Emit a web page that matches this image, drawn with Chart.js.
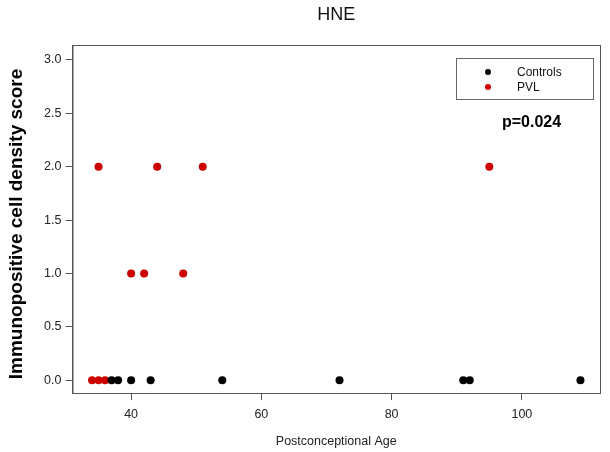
<!DOCTYPE html>
<html>
<head>
<meta charset="utf-8">
<script src="https://cdn.jsdelivr.net/npm/chart.js@4/dist/chart.umd.min.js"></script>
<style>
    html, body { margin: 0; padding: 0; background: #fff; }
    #wrap { width: 610px; height: 452px; }
</style>
</head>
<body>
<div id="wrap"><canvas id="hne_chart" width="610" height="452"></canvas></div>
<script>
// data
let controlsAge = [37, 38, 40, 43, 54, 72, 91, 92, 109];
let controlsScore = [0, 0, 0, 0, 0, 0, 0, 0, 0];
let pvlAge = [34, 35, 36, 35, 44, 51, 95, 40, 42, 48];
let pvlScore = [0, 0, 0, 2, 2, 2, 2, 1, 1, 1];
let xTicks = [40, 60, 80, 100];
let yTicks = [0, 0.5, 1, 1.5, 2, 2.5, 3];
let seriesLabels = ['Controls', 'PVL'];
let seriesColors = ['#000000', '#cd0000'];
let chartTitle = 'HNE';
let yTitle = 'Immunopositive cell density score';
let pValueText = 'p=0.024';

const fontFamily = '"Liberation Sans", Arial, sans-serif';

function toPoints(xs, ys) {
    let points = [];
    for (let i = 0; i < xs.length; i++) {
        points.push({ x: xs[i], y: ys[i] });
    }
    return points;
}

/**
 * draws the titles, the frame round the plot, the legend box and the p value
 */
const boxAndLegend = {
    id: 'boxAndLegend',
    afterDraw(chart) {
        const ctx = chart.ctx;
        const area = chart.chartArea;
        ctx.save();
        ctx.strokeStyle = '#555';
        ctx.lineWidth = 1;
        ctx.strokeRect(area.left + 0.5, area.top + 0.5, area.right - area.left, area.bottom - area.top);

        // title, centred over the plot region
        ctx.font = '18px ' + fontFamily;
        ctx.fillStyle = '#111';
        ctx.textAlign = 'center';
        ctx.textBaseline = 'middle';
        ctx.fillText(chartTitle, (area.left + area.right) / 2, 15);

        // y axis title
        ctx.save();
        ctx.translate(17, 224);
        ctx.rotate(-Math.PI / 2);
        ctx.font = 'bold 19px ' + fontFamily;
        ctx.fillStyle = '#000';
        ctx.fillText(yTitle, 0, 0);
        ctx.restore();

        // legend box
        ctx.textAlign = 'left';
        ctx.strokeStyle = '#666';
        ctx.strokeRect(456.5, 58.5, 137, 41);
        ctx.font = '12px ' + fontFamily;
        chart.data.datasets.forEach((ds, i) => {
            const y = 72 + i * 15;
            ctx.fillStyle = ds.backgroundColor;
            ctx.beginPath();
            ctx.arc(488, y, 3, 0, Math.PI * 2);
            ctx.fill();
            ctx.fillStyle = '#111';
            ctx.fillText(ds.label, 517, y + 1);
        });

        ctx.font = 'bold 16px ' + fontFamily;
        ctx.fillStyle = '#000';
        ctx.fillText(pValueText, 502, 123);
        ctx.restore();
    }
};

const hneConfig = {
    type: 'scatter',
    data: {
        datasets: [{
            label: seriesLabels[0],
            data: toPoints(controlsAge, controlsScore),
            backgroundColor: seriesColors[0],
            borderWidth: 0,
            pointRadius: 4,
        }, {
            label: seriesLabels[1],
            data: toPoints(pvlAge, pvlScore),
            backgroundColor: seriesColors[1],
            borderWidth: 0,
            pointRadius: 4,
        }]
    },
    options: {
        responsive: false,
        animation: false,
        layout: {
            padding: { top: 45, right: 10, left: 0, bottom: 0 }
        },
        scales: {
            x: {
                type: 'linear',
                min: 31,
                max: 112,
                afterBuildTicks: (scale) => { scale.ticks = xTicks.map(v => ({ value: v })); },
                afterFit: (scale) => { scale.height = 59; },
                grid: {
                    drawOnChartArea: false,
                    drawTicks: true,
                    tickLength: 7,
                    color: '#555'
                },
                border: { display: true, color: '#555' },
                ticks: {
                    color: '#222',
                    padding: 7,
                    maxRotation: 0,
                    font: { family: fontFamily, size: 12.5 }
                },
                title: {
                    display: true,
                    text: 'Postconceptional Age',
                    color: '#222',
                    padding: { top: 4, bottom: 3 },
                    font: { family: fontFamily, size: 12.5 }
                }
            },
            y: {
                type: 'linear',
                min: -0.12,
                max: 3.14,
                afterBuildTicks: (scale) => { scale.ticks = yTicks.map(v => ({ value: v })); },
                afterFit: (scale) => { scale.width = 72.5; },
                grid: {
                    drawOnChartArea: false,
                    drawTicks: true,
                    tickLength: 7,
                    color: '#555'
                },
                border: { display: true, color: '#555' },
                ticks: {
                    color: '#222',
                    padding: 4,
                    callback: (v) => Number(v).toFixed(1),
                    font: { family: fontFamily, size: 12.5 }
                }
            }
        },
        plugins: {
            legend: { display: false },
            tooltip: { enabled: false },
            title: { display: false }
        }
    },
    plugins: [boxAndLegend]
};

const hneChart = new Chart(document.getElementById('hne_chart'), hneConfig);
</script>
</body>
</html>
